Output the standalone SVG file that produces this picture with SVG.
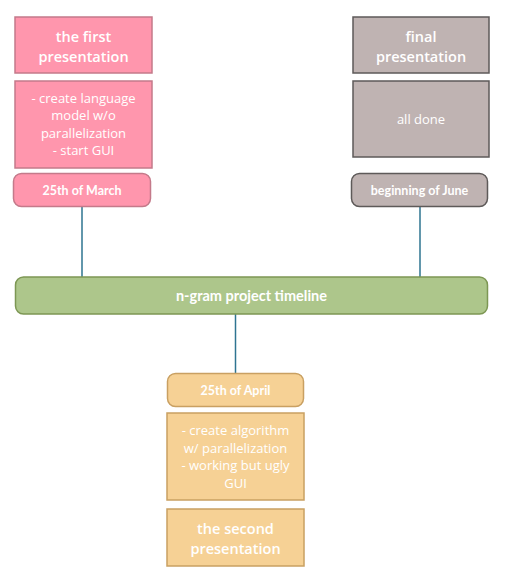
<svg xmlns="http://www.w3.org/2000/svg" width="515" height="579" viewBox="0 0 515 579">
<style>
.t{font-family:"Open Sans","Noto Sans",sans-serif;fill:#fff;text-anchor:middle}
.h{font-size:14.5px;font-weight:600}
.b{font-size:13px}
.d{font-family:Lato,"Liberation Sans",sans-serif;font-weight:700;font-size:12.5px;fill:#fff;text-anchor:middle}
.pink{fill:#FF96AD;stroke:#C47A8A;stroke-width:1.5}
.grey{fill:#BFB3B2;stroke:#5E5A59;stroke-width:1.5}
.org{fill:#F6D195;stroke:#C9A062;stroke-width:1.5}
.grn{fill:#ADC68B;stroke:#7D9754;stroke-width:1.5}
.c{stroke:#2E7491;stroke-width:1.5;fill:none}
</style>
<g id="connectors">
<line class="c" x1="82" y1="207" x2="82" y2="277"/>
<line class="c" x1="420" y1="207" x2="420" y2="277" stroke="#1F5C84"/>
<line class="c" x1="235.5" y1="314" x2="235.5" y2="373" stroke="#1F5C84"/>
</g>
<g id="first-title"><rect class="pink" x="15" y="17" width="137" height="56"/>
<text class="t h" x="83.5" y="42">the first</text><text class="t h" x="83.5" y="61.5">presentation</text></g>
<g id="first-body"><rect class="pink" x="15" y="81" width="137" height="87"/>
<text class="t b"><tspan x="83.5" y="102.5">- create language</tspan><tspan x="83.5" y="120">model w/o</tspan><tspan x="83.5" y="137.5">parallelization</tspan><tspan x="83.5" y="155">- start GUI</tspan></text></g>
<g id="first-date"><rect class="pink" x="13.5" y="173.5" width="137" height="33" rx="8"/>
<text class="d" x="82" y="195">25th of March</text></g>
<g id="final-title"><rect class="grey" x="353" y="17" width="136" height="56"/>
<text class="t h" x="421" y="42">final</text><text class="t h" x="421" y="61.5">presentation</text></g>
<g id="final-body"><rect class="grey" x="353" y="81" width="136" height="76"/>
<text class="t b" x="421" y="124">all done</text></g>
<g id="final-date"><rect class="grey" x="351.5" y="173.5" width="136" height="33" rx="8"/>
<text class="d" x="419.5" y="195">beginning of June</text></g>
<g id="timeline"><rect class="grn" x="15.5" y="277" width="472" height="37" rx="8"/>
<text class="d" x="251.5" y="301" style="font-size:14.5px">n-gram project timeline</text></g>
<g id="april-date"><rect class="org" x="167.5" y="373.5" width="136" height="33" rx="8"/>
<text class="d" x="235.5" y="395">25th of April</text></g>
<g id="april-body"><rect class="org" x="167" y="413" width="137" height="87"/>
<text class="t b"><tspan x="235.5" y="435">- create algorithm</tspan><tspan x="235.5" y="452.5">w/ parallelization</tspan><tspan x="235.5" y="470">- working but ugly</tspan><tspan x="235.5" y="487.5">GUI</tspan></text></g>
<g id="second-title"><rect class="org" x="167" y="509" width="137" height="57"/>
<text class="t h" x="235.5" y="534">the second</text><text class="t h" x="235.5" y="553.5">presentation</text></g>
</svg>
